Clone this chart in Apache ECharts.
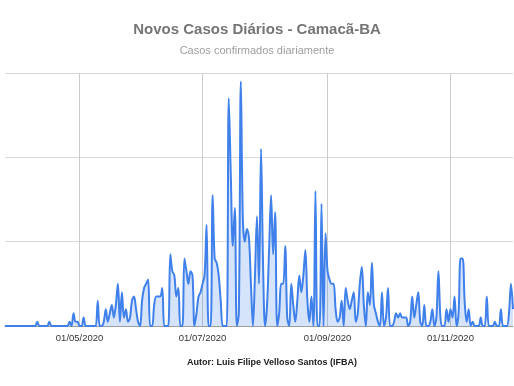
<!DOCTYPE html>
<html>
<head>
<meta charset="utf-8">
<script src="https://cdn.jsdelivr.net/npm/echarts@6/dist/echarts.min.js"></script>
<style>html,body{margin:0;padding:0;background:#fff}#c{width:514px;height:386px}</style>
</head>
<body>
<div id="c"></div>
<script>
// Daily new cases, starting 25/03/2020
const startDate = '2020-03-25';
const novosCasos = [
  0,0,0,0,0,0,0,0,0,0,0,0,0,0,0,0, 1, 0,0,0,0,0, 1, 0,0,0,0,0,0,0,0,0,
  1,0,3,1,1,0,0,2, 0,0,0,0,0,0,
  6,0,0,1,4,1,3,5,2,5,10,1,8,2,4,1,2,6,7,4,1,0,6,9,10,11,0,0,
  5,7,7,7,9,0,0,0,17,13,12,7,9,0,0,16,13,10,13,12,0,3,7,8,10,12,24,0,0,
  31,16,15,12,6,0,0,0,54,36,19,28,0,3,58,25,20,23,21,10,0,12,26,10,42,15,0,5,18,
  31,17,27,0,3,10,10,19,2,0,10,5,1,6,12,8,12,18,6,1,7,0,32,0,0,29,0,22,
  13,11,10,10,4,1,2,6,0,9,6,4,6,8,1,3,10,14,5,0,8,5,15,5,3,1,0,8,0,2,9,0,0,
  1,3,2,3,2,2,2,0,1,7,2,5,8,1,0,5,0,0,1,4,0,2,13,2,0,0,4,1,4,2,7,0,3,16,16,6,1,
  4,0,1,0,0,0,2,0,0,7,0,0,0,1,0,0,4,0,0,0,3,10,4
];
const tickLabels = ['01/05/2020','01/07/2020','01/09/2020','01/11/2020'];
const titleText = 'Novos Casos Diários - Camacã-BA';
const subtitleText = 'Casos confirmados diariamente';
const authorText = 'Autor: Luis Filipe Velloso Santos (IFBA)';

function pad(n){return (n<10?'0':'')+n;}
const categories = [];
{
  const d0 = new Date(startDate + 'T12:00:00Z');
  for (let i = 0; i < novosCasos.length; i++) {
    const d = new Date(d0.getTime() + i*86400000);
    categories.push(pad(d.getUTCDate()) + '/' + pad(d.getUTCMonth()+1) + '/' + d.getUTCFullYear());
  }
}
const showTick = (idx, val) => tickLabels.indexOf(categories[idx]) >= 0;

const chart = echarts.init(document.getElementById('c'), null, {renderer:'canvas'});
chart.setOption({
  animation: false,
  backgroundColor: '#ffffff',
  textStyle: {fontFamily: 'Liberation Sans, Arial, sans-serif'},
  title: [
    {text: titleText, left: 'center', top: 17,
     textStyle: {fontSize: 15, fontWeight: 'bold', color: '#757575', fontFamily: 'Liberation Sans, Arial, sans-serif'}},
    {text: subtitleText, left: 'center', top: 40,
     textStyle: {fontSize: 11, fontWeight: 'normal', color: '#9e9e9e', fontFamily: 'Liberation Sans, Arial, sans-serif'}},
    {text: authorText, left: 267, textAlign: 'center', top: 353,
     textStyle: {fontSize: 9, fontWeight: 'bold', color: '#222', fontFamily: 'Liberation Sans, Arial, sans-serif'}}
  ],
  grid: {left: 5, right: 1, top: 73, bottom: 60, containLabel: false},
  xAxis: {
    type: 'category',
    data: categories,
    boundaryGap: false,
    axisLine: {show: true, lineStyle: {color: '#9e9e9e', width: 1}},
    axisTick: {show: false},
    axisLabel: {interval: showTick, color: '#333', fontSize: 9.5, margin: 7,
                fontFamily: 'Liberation Sans, Arial, sans-serif'},
    splitLine: {show: true, interval: showTick, lineStyle: {color: '#cccccc', width: 1}}
  },
  yAxis: {
    type: 'value', min: 0, max: 60, interval: 20,
    axisLabel: {show: false}, axisLine: {show: false}, axisTick: {show: false},
    splitLine: {lineStyle: {color: '#d9d9d9', width: 1}}
  },
  series: [{
    type: 'line',
    data: novosCasos,
    smooth: 0.35,
    symbol: 'none',
    lineStyle: {color: '#3f80ea', width: 2},
    areaStyle: {color: 'rgba(63,128,234,0.3)'}
  }]
});
</script>
</body>
</html>
